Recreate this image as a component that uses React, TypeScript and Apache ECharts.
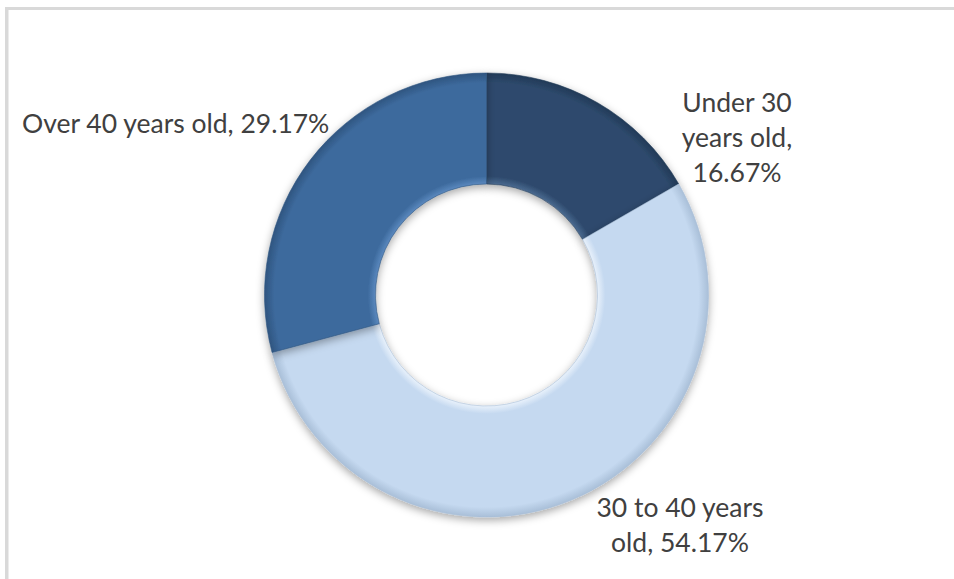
import React, { useEffect, useRef } from "react";
import * as echarts from "echarts";

const categories = ["Under 30 years old", "30 to 40 years old", "Over 40 years old"];
const counts = [4, 13, 7];
const colors = ["#2E4A6D", "#C5D9F0", "#3D6A9D"];
const lighter = ["#4A6A90", "#E8F1FB", "#5A88BE"];
const darker = ["#223A57", "#A9BFD8", "#2F5580"];

const CX = 486.5;
const CY = 295;
const R_OUT = 222;
const R_IN = 111;

function wrapLabel(idx: number, text: string): string {
  if (idx === 0) return text.replace("Under 30 ", "Under 30\n").replace("old, ", "old,\n");
  if (idx === 1) return text.replace("years old, ", "years\nold, ");
  return text;
}

export default function App() {
  const ref = useRef<HTMLDivElement>(null);
  useEffect(() => {
    if (!ref.current) return;
    const chart = echarts.init(ref.current, undefined, { renderer: "svg" });
    const total = counts.reduce((a, b) => a + b, 0);
    const labelPos = [
      { x: 737, y: 137, align: "center" },
      { x: 680, y: 524, align: "center" },
      { x: 22, y: 123, align: "left" },
    ];
    chart.setOption({
      animation: false,
      backgroundColor: "#ffffff",
      graphic: [
        { type: "rect", shape: { x: 5, y: 7, width: 949, height: 3 }, style: { fill: "#D9D9D9" } },
        { type: "rect", shape: { x: 5, y: 7, width: 3.5, height: 572 }, style: { fill: "#D9D9D9" } },
      ],
      series: [
        {
          type: "pie",
          center: [CX, CY],
          radius: [R_IN, R_OUT],
          startAngle: 90,
          clockwise: true,
          avoidLabelOverlap: false,
          labelLine: { show: false },
          label: {
            show: true,
            position: "outside",
            fontFamily: "Lato",
            fontSize: 26.5,
            lineHeight: 35,
            color: "#404040",
            formatter: (p: any) =>
              wrapLabel(p.dataIndex, `${p.name}, ${((p.value / total) * 100).toFixed(2)}%`),
          },
          labelLayout: (params: any) => {
            const lp = labelPos[params.dataIndex];
            return { x: lp.x, y: lp.y, align: lp.align, verticalAlign: "middle" };
          },
          itemStyle: {
            shadowBlur: 8,
            shadowOffsetY: 3,
            shadowColor: "rgba(0,0,0,0.35)",
          },
          data: categories.map((name, i) => ({
            name,
            value: counts[i],
            itemStyle: {
              borderColor: darker[i],
              borderWidth: 0.6,
              color: {
                type: "radial",
                x: CX,
                y: CY,
                r: R_OUT,
                global: true,
                colorStops: [
                  { offset: 0, color: lighter[i] },
                  { offset: 0.5, color: lighter[i] },
                  { offset: 0.535, color: colors[i] },
                  { offset: 0.955, color: colors[i] },
                  { offset: 1, color: darker[i] },
                ],
              },
            },
          })),
        },
      ],
    });
    return () => chart.dispose();
  }, []);
  return (
    <div
      ref={ref}
      style={{ position: "fixed", left: 0, top: 0, width: 954, height: 579 }}
    />
  );
}
